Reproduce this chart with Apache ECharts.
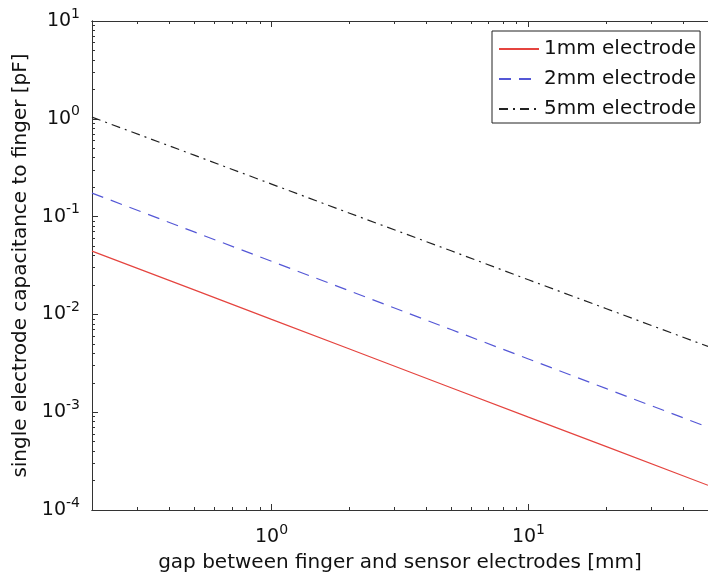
<!DOCTYPE html>
<html>
<head>
<meta charset="utf-8">
<script src="https://cdn.jsdelivr.net/npm/echarts@6/dist/echarts.min.js"></script>
<style>
html,body{margin:0;padding:0;background:#fff;}
#chart{width:708px;height:586px;}
</style>
</head>
<body>
<div id="chart"></div>
<script>
// gap between finger and sensor electrodes [mm]
var gaps = [0.2, 0.5, 1, 2, 5, 10, 20, 50];
// single electrode capacitance to finger [pF]
var cap1mm = [0.0443, 0.0178, 0.0089, 0.00446, 0.00178, 0.00089, 0.000447, 0.000179];
var cap2mm = [0.174, 0.0697, 0.0349, 0.0175, 0.0070, 0.0035, 0.00175, 0.000702];
var cap5mm = [1.04, 0.425, 0.215, 0.109, 0.0447, 0.0226, 0.0115, 0.0047];
var seriesNames = ['1mm electrode', '2mm electrode', '5mm electrode'];
var xMajorTicks = [1, 10];
var xMinorTicks = [0.3, 0.4, 0.5, 0.6, 0.7, 0.8, 0.9, 2, 3, 4, 5, 6, 7, 8, 9, 20, 30, 40];
var yMajorTicks = [0.0001, 0.001, 0.01, 0.1, 1, 10];
var yMinorTicks = [];
[0.0001, 0.001, 0.01, 0.1, 1].forEach(function (d) {
  for (var k = 2; k <= 9; k++) yMinorTicks.push(+(d * k).toPrecision(3));
});

function pairs(ys) { return gaps.map(function (g, i) { return [g, ys[i]]; }); }

var FONT = 'DejaVu Sans, Liberation Sans, Arial, sans-serif';
var AX = '#333';
var TXT = '#111';
var rich = {
  b: { fontSize: 19, fontFamily: FONT, color: TXT, lineHeight: 20, padding: [7, 0, 0, 0] },
  s: { fontSize: 14, fontFamily: FONT, color: TXT, lineHeight: 20, padding: [0, 0, 7, 0] }
};
function powFmt(v) {
  var e = Math.round(Math.log(v) / Math.LN10);
  return '{b|10}{s|' + e + '}';
}

function logX(pos, ticks, len, withLabel, extra) {
  var a = {
    type: 'log', logBase: 10, min: 0.2, max: 50, position: pos, gridIndex: 0,
    axisLine: { show: true, onZero: false, lineStyle: { color: AX, width: 1 } },
    axisTick: { show: true, inside: true, length: len, customValues: ticks, lineStyle: { color: AX, width: 1 } },
    axisLabel: withLabel ? { show: true, customValues: ticks, formatter: powFmt, rich: rich, margin: 14 } : { show: false },
    splitLine: { show: false }, minorTick: { show: false }, minorSplitLine: { show: false }
  };
  if (extra) for (var k in extra) a[k] = extra[k];
  return a;
}
function logY(pos, ticks, len, withLabel, extra) {
  var a = {
    type: 'log', logBase: 10, min: 0.0001, max: 10, position: pos, gridIndex: 0,
    axisLine: { show: true, onZero: false, lineStyle: { color: AX, width: 1 } },
    axisTick: { show: true, inside: true, length: len, customValues: ticks, lineStyle: { color: AX, width: 1 } },
    axisLabel: withLabel ? { show: true, customValues: ticks, formatter: powFmt, rich: rich, margin: 12, padding: [0, 0, 7, 0] } : { show: false },
    splitLine: { show: false }, minorTick: { show: false }, minorSplitLine: { show: false }
  };
  if (extra) for (var k in extra) a[k] = extra[k];
  return a;
}

var chart = echarts.init(document.getElementById('chart'), null, { renderer: 'canvas' });
chart.setOption({
  animation: false,
  backgroundColor: '#fff',
  grid: { left: 92, top: 21, width: 625, height: 489, containLabel: false, show: false },
  legend: {
    data: seriesNames,
    orient: 'vertical',
    left: 492, top: 31,
    backgroundColor: '#fff',
    borderColor: '#222', borderWidth: 1, borderRadius: 0,
    padding: [7, 4, 3, 6],
    itemWidth: 40, itemHeight: 14, itemGap: 8,
    itemStyle: { opacity: 0 },
    textStyle: { fontFamily: FONT, fontSize: 20, lineHeight: 22, color: TXT, padding: [0, 0, 0, 0] }
  },
  xAxis: [
    logX('bottom', xMajorTicks, 6, true, {
      name: 'gap between finger and sensor electrodes [mm]', nameLocation: 'middle', nameGap: 43,
      nameTextStyle: { fontFamily: FONT, fontSize: 20, color: TXT }
    }),
    logX('bottom', xMinorTicks, 3, false),
    logX('top', xMajorTicks, 6, false),
    logX('top', xMinorTicks, 3, false)
  ],
  yAxis: [
    logY('left', yMajorTicks, 6, true, {
      name: 'single electrode capacitance to finger [pF]', nameLocation: 'middle', nameGap: 58,
      nameRotate: 90,
      nameTextStyle: { fontFamily: FONT, fontSize: 20, color: TXT }
    }),
    logY('left', yMinorTicks, 3, false)
  ],
  series: [
    { name: seriesNames[0], type: 'line', xAxisIndex: 0, yAxisIndex: 0, data: pairs(cap1mm),
      showSymbol: false, symbol: 'none', color: '#e5443f',
      lineStyle: { color: '#e5443f', width: 1.2, type: 'solid' } },
    { name: seriesNames[1], type: 'line', xAxisIndex: 0, yAxisIndex: 0, data: pairs(cap2mm),
      showSymbol: false, symbol: 'none', color: '#5457d6',
      lineStyle: { color: '#5457d6', width: 1.2, type: [12, 8] } },
    { name: seriesNames[2], type: 'line', xAxisIndex: 0, yAxisIndex: 0, data: pairs(cap5mm),
      showSymbol: false, symbol: 'none', color: '#222',
      lineStyle: { color: '#222', width: 1.2, type: [9, 5, 2, 5] } }
  ]
});
</script>
</body>
</html>
